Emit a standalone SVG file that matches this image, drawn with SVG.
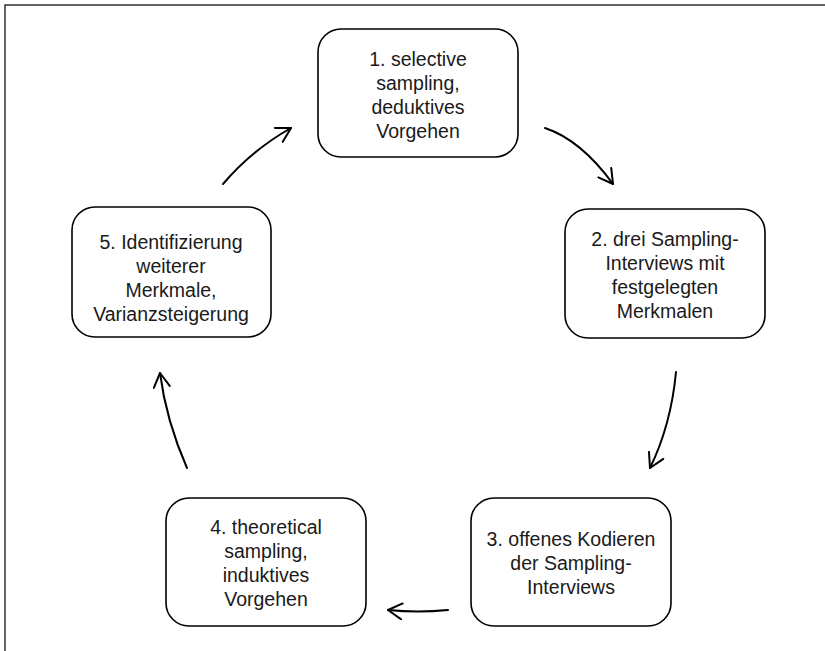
<svg xmlns="http://www.w3.org/2000/svg" width="825" height="651" viewBox="0 0 825 651">
<style>
.box{fill:#fff;stroke:#000;stroke-width:1.6}
.lbl{font-family:"Liberation Sans",Arial,sans-serif;font-size:19.5px;fill:#1a1a1a;text-anchor:middle}
.arr{fill:none;stroke:#000;stroke-width:2;stroke-linecap:round}
.frame{fill:none;stroke:#333;stroke-width:1.5}
</style>
<defs>
<marker id="ah" markerUnits="userSpaceOnUse" viewBox="0 0 16 18" refX="15" refY="9" markerWidth="16" markerHeight="18" orient="auto">
<path d="M1,1 L15,9 L1,17" fill="none" stroke="#000" stroke-width="2" stroke-linecap="round" stroke-linejoin="round"/>
</marker>
</defs>
<rect width="825" height="651" fill="#fff"/>
<path class="frame" d="M5,651 L5,5 L825,5"/>
<g id="node1">
<rect class="box" x="318" y="29" width="200" height="128" rx="23"/>
<text class="lbl" x="418" y="66">1. selective</text>
<text class="lbl" x="418" y="90">sampling,</text>
<text class="lbl" x="418" y="114">deduktives</text>
<text class="lbl" x="418" y="138">Vorgehen</text>
</g>
<g id="node2">
<rect class="box" x="565" y="209" width="200" height="129" rx="23"/>
<text class="lbl" x="665" y="246">2. drei Sampling-</text>
<text class="lbl" x="665" y="270">Interviews mit</text>
<text class="lbl" x="665" y="294">festgelegten</text>
<text class="lbl" x="665" y="318">Merkmalen</text>
</g>
<g id="node3">
<rect class="box" x="471" y="498" width="200" height="128" rx="23"/>
<text class="lbl" x="571" y="546">3. offenes Kodieren</text>
<text class="lbl" x="571" y="570">der Sampling-</text>
<text class="lbl" x="571" y="594">Interviews</text>
</g>
<g id="node4">
<rect class="box" x="166" y="498" width="200" height="128" rx="23"/>
<text class="lbl" x="266" y="534">4. theoretical</text>
<text class="lbl" x="266" y="558">sampling,</text>
<text class="lbl" x="266" y="582">induktives</text>
<text class="lbl" x="266" y="606">Vorgehen</text>
</g>
<g id="node5">
<rect class="box" x="72" y="207" width="199" height="130" rx="23"/>
<text class="lbl" x="171" y="249">5. Identifizierung</text>
<text class="lbl" x="171" y="273">weiterer</text>
<text class="lbl" x="171" y="297">Merkmale,</text>
<text class="lbl" x="171" y="321">Varianzsteigerung</text>
</g>
<g id="connectors">
<path class="arr" marker-end="url(#ah)" d="M545,128 Q581,140 613,184"/>
<path class="arr" marker-end="url(#ah)" d="M676,372 Q671,425 650,468"/>
<path class="arr" marker-end="url(#ah)" d="M448,610 Q418,613 388,610"/>
<path class="arr" marker-end="url(#ah)" d="M187,468 Q166,420 160,373"/>
<path class="arr" marker-end="url(#ah)" d="M223,184 Q252,150 291,128"/>
</g>
</svg>
